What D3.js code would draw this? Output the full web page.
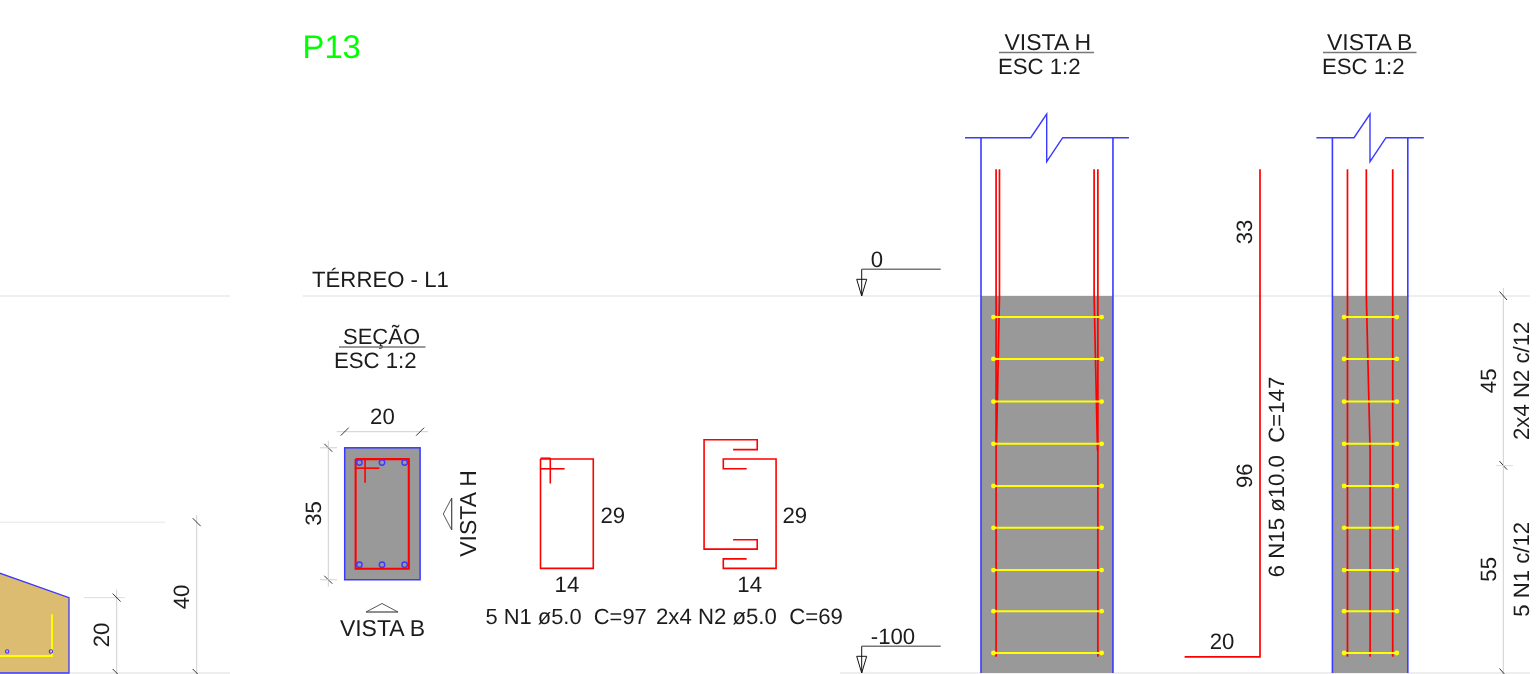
<!DOCTYPE html>
<html>
<head>
<meta charset="utf-8">
<title>P13</title>
<script src="https://cdn.jsdelivr.net/npm/d3@7"></script>
<style>
  html, body { margin: 0; padding: 0; background: #fff; overflow: hidden; }
  svg { filter: blur(0.35px); }
  text { font-family: "Liberation Sans", Arial, sans-serif; font-size: 22.2px; fill: #1c1c1c; white-space: pre; text-rendering: geometricPrecision; }
</style>
</head>
<body>
<div id="chart"></div>
<script>
// All values below are in centimetres of the drawing (model units)
const pillarName = "P13";
const levelName = "TÉRREO - L1";
const levelValues = [0, -100];
const levelLabels = ["0", "-100"];

// Section 20x35 with the six longitudinal bars
const sectionSize = [20, 35];
const sectionBarsX = [3.9, 9.9, 15.9];
const sectionBarsY = [3.9, 31];
const stirrupOutline = [[2.9, 3], [17, 3], [17, 32.1], [2.9, 32.1], [2.9, 3]];
const hookA = [[2.9, 5.4], [9.2, 5.4]];
const hookB = [[5.4, 3], [5.4, 9.3]];

// Bending diagrams
const n1Size = [14, 29];
const n1Outline = [[0, 0], [14, 0], [14, 29], [0, 29], [0, 0]];
const n1HookA = [[0, 2.6], [6.4, 2.6]];
const n1HookB = [[2.6, -0.3], [2.6, 6.5]];
const n1HookC = [[0, -0.2], [2.6, -0.2]];
const n2PartA = [[2.6, -2.5], [9, -2.5], [9, -5.1], [-5.1, -5.1], [-5.1, 23.9], [9, 23.9], [9, 21.4], [2.6, 21.4]];
const n2PartB = [[6.2, 2.6], [0, 2.6], [0, 0], [14, 0], [14, 29], [0, 29], [0, 26.5], [6.2, 26.5]];

// Elevations of the stirrups (both views)
const stirrupElevations = [-5.6, -16.7, -28, -39.2, -50.4, -61.5, -72.7, -83.6, -94.7];

// Views: [offset from the left face, elevation]
const viewHWidth = 35;
const viewBWidth = 20;
const barTop = 33.6;
const barBottom = -95.7;
const viewHBars = [
  [[4, barTop], [4, barBottom]],
  [[4.9, barTop], [4.9, 0], [4.1, -39.5]],
  [[30, barTop], [30, 0], [30.9, -41]],
  [[31, barTop], [31, barBottom]]
];
const viewBBars = [
  [[4, barTop], [4, barBottom]],
  [[9, barTop], [9, 0], [10, -41], [10, barBottom]],
  [[16, barTop], [16, barBottom]]
];
const viewHStirrupEnds = [3.3, 32];
const viewBStirrupEnds = [3.1, 17.1];

// Bent bar N15
const n15Shape = [[-20, barBottom], [0, barBottom], [0, barTop]];
const n15Labels = ["33", "96", "20", "6 N15 ø10.0  C=147"];

// Stirrup spacing dimension on the right
const spacingSegments = [45, 55];
const spacingLabels = ["2x4 N2 c/12", "5 N1 c/12"];

// Footing of the neighbouring element, relative to its lower right corner
const footingOutline = [[-19, 26.7], [0, 20], [0, 0], [-19, 0]];
const footingBar = [[-19, 4.5], [-4.5, 4.5], [-4.5, 15.6]];
const footingDots = [[-16.4, 5.7], [-4.8, 5.7]];
const footingHeights = [20, 40];

const svg = d3.select("#chart").append("svg")
    .attr("width", 1539)
    .attr("height", 674)
    .style("display", "block");

// 100 cm of the pillar take 377 px
const cm = d3.scaleLinear().domain([0, 100]).range([0, 377]);
const elev = d3.scaleLinear().domain([0, -100]).range([296, 673]);

const BLUE = "#3a3aff", RED = "#ff0000", YELLOW = "#ffff00", CONCRETE = "#999999";
const LIGHT = "#dddddd", DIM = "#cfcfcf", TICK = "#333333";

function line(pts, color, w) {
    return svg.append("path")
        .attr("d", d3.line()(pts))
        .attr("fill", "none")
        .attr("stroke", color)
        .attr("stroke-width", w)
        .attr("stroke-linejoin", "miter");
}

function label(x, y, str, opts = {}) {
    const t = svg.append("text")
        .attr("text-anchor", opts.anchor || "start")
        .attr("transform", `translate(${x},${y})` + (opts.rotate ? " rotate(-90)" : ""))
        .text(str);
    if (opts.size) t.style("font-size", opts.size + "px");
    if (opts.color) t.style("fill", opts.color);
    return t;
}

// Ticks on dimension lines: "/" on horizontal ones, "\" on vertical ones
function vDim(x, ys, extra) {
    line([[x, d3.min(ys) - extra], [x, d3.max(ys) + extra]], DIM, 1);
    ys.forEach(y => line([[x - 4, y - 4], [x + 4, y + 4]], TICK, 1));
}

function hDim(y, xs, extra) {
    line([[d3.min(xs) - extra, y], [d3.max(xs) + extra, y]], DIM, 1);
    xs.forEach(x => line([[x - 4, y + 4], [x + 4, y - 4]], TICK, 1));
}

// Map local cm points of a shape onto the page
const local = (ox, oy, pts) => pts.map(p => [ox + cm(p[0]), oy + cm(p[1])]);

// Level lines across the sheet
levelValues.forEach(v => {
    line([[0, elev(v)], [230, elev(v)]], LIGHT, 1);
    line([[v === 0 ? 303 : 840, elev(v)], [1530, elev(v)]], LIGHT, 1);
});

label(302.5, 57.5, pillarName, { size: 32.8, color: "#00ff00" });
label(312, 287, levelName);

// Titles with underline
function title(x, y, lineFrom, lineTo, top, escX, size) {
    label(x, y, top, { size: size });
    line([[lineFrom, y + 3], [lineTo, y + 3]], "#777777", 1.4);
    label(escX, y + 24, "ESC 1:2");
}
title(1004.5, 49.5, 999, 1094, "VISTA H", 998, 23);
title(1327, 49.5, 1323, 1416.5, "VISTA B", 1322, 23);
title(343, 344, 339, 425.5, "SEÇÃO", 334, 22);

// Level markers
levelValues.forEach((v, i) => {
    const y = elev(v) - 26.7;
    const x = 861.7;
    line([[x, y], [940.7, y]], "#777777", 1.4);
    line([[x, y], [x, elev(v)]], "#111111", 1);
    line([[x - 5, y + 10], [x + 5, y + 10], [x, elev(v)], [x - 5, y + 10]], "#111111", 1);
    label(i === 0 ? 877 : 893, y - 2.5, levelLabels[i], { anchor: "middle" });
});

// Section
const secX = 344.7, secY = 447.8;
svg.append("rect")
    .attr("x", secX).attr("y", secY)
    .attr("width", cm(sectionSize[0])).attr("height", cm(sectionSize[1]))
    .attr("fill", CONCRETE).attr("stroke", BLUE).attr("stroke-width", 1.5);
line(local(secX, secY, stirrupOutline), RED, 2.1);
line(local(secX, secY, hookA), RED, 1.6);
line(local(secX, secY, hookB), RED, 1.6);
sectionBarsY.forEach(by => sectionBarsX.forEach(bx => {
    svg.append("circle")
        .attr("cx", secX + cm(bx)).attr("cy", secY + cm(by)).attr("r", 2.7)
        .attr("fill", "none").attr("stroke", BLUE).attr("stroke-width", 1.4);
}));
hDim(431.7, [secX, secX + cm(sectionSize[0])], 8);
vDim(328.3, [secY, secY + cm(sectionSize[1])], 7);
line([[320, secY], [337, secY]], DIM, 1);
line([[320, secY + cm(sectionSize[1])], [337, secY + cm(sectionSize[1])]], DIM, 1);
label(secX + cm(sectionSize[0]) / 2, 424, String(sectionSize[0]), { anchor: "middle" });
label(320.7, 513.5, String(sectionSize[1]), { anchor: "middle", rotate: true });

// Cut markers
line([[451.7, 498], [443.3, 514], [451.7, 530]], "#444444", 0.9);
line([[451.7, 498], [451.7, 530]], "#444444", 1.2);
label(476, 513.5, "VISTA H", { anchor: "middle", rotate: true, size: 23 });
line([[366, 612], [382, 603.5], [398, 612]], "#444444", 0.9);
line([[366, 612], [398, 612]], "#444444", 1.2);
label(382.5, 636, "VISTA B", { anchor: "middle", size: 23 });

// N1 diagram
const n1X = 540.5, n1Y = 459;
line(local(n1X, n1Y, n1Outline), RED, 1.6);
line(local(n1X, n1Y, n1HookA), RED, 1.6);
line(local(n1X, n1Y, n1HookB), RED, 1.6);
line(local(n1X, n1Y, n1HookC), RED, 1.6);
label(600.5, 522.5, String(n1Size[1]));
label(n1X + cm(n1Size[0]) / 2, 591.5, String(n1Size[0]), { anchor: "middle" });
label(485.5, 623.5, "5 N1 ø5.0  C=97", { size: 21.9 });

// N2 diagram
const n2X = 723.3, n2Y = 459;
line(local(n2X, n2Y, n2PartA), RED, 1.6);
line(local(n2X, n2Y, n2PartB), RED, 1.6);
label(782.5, 522.5, String(n1Size[1]));
label(n2X + cm(n1Size[0]) / 2, 591.5, String(n1Size[0]), { anchor: "middle" });
label(656, 623.5, "2x4 N2 ø5.0  C=69");

// Pillar view with break line on top
function pillarView(x0, w, bars, ends, breakX, overhang) {
    const x1 = x0 + cm(w);
    const topY = 137.7;
    svg.append("rect")
        .attr("x", x0).attr("y", elev(0))
        .attr("width", x1 - x0).attr("height", elev(-100) - elev(0))
        .attr("fill", CONCRETE);
    line([[x0, topY], [x0, elev(-100)]], BLUE, 1.6);
    line([[x1, topY], [x1, elev(-100)]], BLUE, 1.6);
    line([[x0 - overhang, topY], [breakX - 16, topY], [breakX, 114], [breakX, 161.7], [breakX + 16, topY], [x1 + overhang, topY]], BLUE, 1.4);

    bars.forEach(b => line(b.map(p => [x0 + cm(p[0]), elev(p[1])]), RED, 1.7));

    stirrupElevations.forEach(v => {
        const y = elev(v);
        line([[x0 + cm(ends[0]), y], [x0 + cm(ends[1]), y]], YELLOW, 2);
        ends.forEach(e => {
            svg.append("circle")
                .attr("cx", x0 + cm(e)).attr("cy", y).attr("r", 2.4)
                .attr("fill", YELLOW);
        });
    });
}
pillarView(981, viewHWidth, viewHBars, viewHStirrupEnds, 1046.7, 16);
pillarView(1332.4, viewBWidth, viewBBars, viewBStirrupEnds, 1370, 16);

// Bent bar N15
const n15X = 1260;
line(n15Shape.map(p => [n15X + cm(p[0]), elev(p[1])]), RED, 1.7);
label(1252, 232, n15Labels[0], { anchor: "middle", rotate: true });
label(1252, 475.7, n15Labels[1], { anchor: "middle", rotate: true });
label(1222, 648.5, n15Labels[2], { anchor: "middle" });
label(1284, 477, n15Labels[3], { anchor: "middle", rotate: true });

// Stirrup spacing dimension
const spacingYs = [elev(0)];
spacingSegments.forEach(s => spacingYs.push(spacingYs[spacingYs.length - 1] + cm(s)));
line([[1503.3, spacingYs[0] - 8], [1503.3, spacingYs[2]]], DIM, 1);
spacingYs.forEach(y => line([[1499.5, y - 4.5], [1507, y + 4]], TICK, 1));
line([[1496, spacingYs[1]], [1513, spacingYs[1]]], LIGHT, 1);
spacingSegments.forEach((s, i) => {
    const mid = spacingYs[i] + cm(s) / 2;
    label(1495.7, mid, String(s), { anchor: "middle", rotate: true });
    label(1529, mid, spacingLabels[i], { anchor: "middle", rotate: true });
});

// Footing fragment on the left
const footX = 69, footY = elev(-100);
const onFoot = pts => pts.map(p => [footX + cm(p[0]), footY - cm(p[1])]);
svg.append("path")
    .attr("d", d3.line()(onFoot(footingOutline)) + "Z")
    .attr("fill", "#dcbc70").attr("stroke", BLUE).attr("stroke-width", 1.3);
line(onFoot(footingBar), YELLOW, 1.9);
onFoot(footingDots).forEach(p => {
    svg.append("circle")
        .attr("cx", p[0]).attr("cy", p[1]).attr("r", 1.7)
        .attr("fill", "none").attr("stroke", BLUE).attr("stroke-width", 1.1);
});
line([[0, footY - cm(footingHeights[1])], [165, footY - cm(footingHeights[1])]], "#e6e6e6", 1);
line([[84, footY - cm(footingHeights[0])], [125, footY - cm(footingHeights[0])]], LIGHT, 1);
vDim(116.7, [footY - cm(footingHeights[0]), footY], 8);
vDim(196.7, [footY - cm(footingHeights[1]), footY], 7);
label(109, 635, String(footingHeights[0]), { anchor: "middle", rotate: true });
label(189, 597, String(footingHeights[1]), { anchor: "middle", rotate: true });
</script>
</body>
</html>
